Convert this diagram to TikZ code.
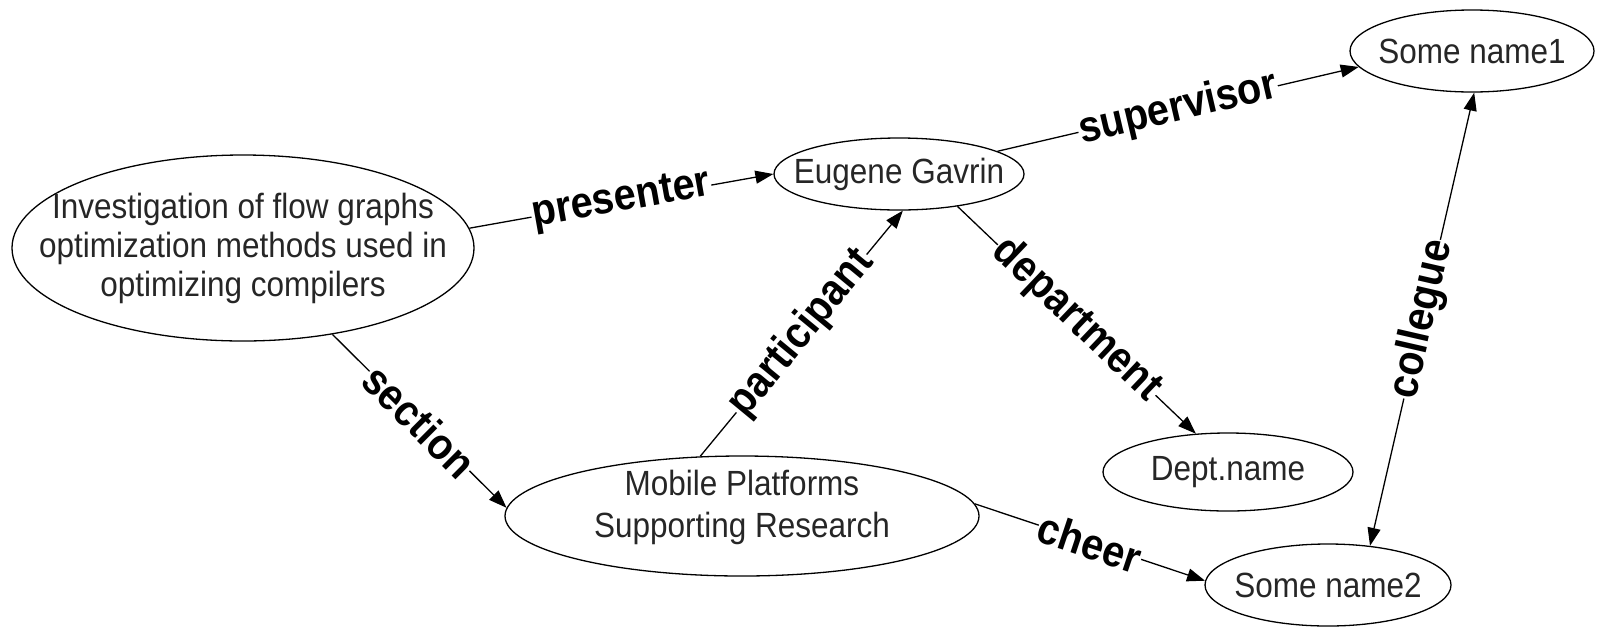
\documentclass[tikz,border=0pt]{standalone}
\usepackage{fontspec}
\setmainfont{Liberation Sans}
\newfontfamily\nodefont{Liberation Sans}[FakeStretch=0.9]
\newfontfamily\labfont{Liberation Sans}[FakeStretch=0.9]
\usetikzlibrary{shapes.geometric,arrows.meta}
\tikzset{
  ent/.style={ellipse, draw, line width=1.3pt, inner sep=0pt},
  enttext/.style={align=center, inner sep=0pt, text=black!85,
    font=\nodefont\fontsize{35}{39}\selectfont},
  rel/.style={draw, line width=1.3pt, -{Triangle[length=18pt,width=13pt]}},
  birel/.style={draw, line width=1.3pt, {Triangle[length=18pt,width=13pt]}-{Triangle[length=18pt,width=13pt]}},
  lab/.style={font=\labfont\bfseries\fontsize{44}{44}\selectfont, fill=white,
    inner sep=1pt, sloped, pos=0.5}
}
\begin{document}
\begin{tikzpicture}[x=1pt,y=-1pt]
\useasboundingbox (0,0) rectangle (1602,630);
\node[ent, minimum width=462, minimum height=186,
  label={[enttext]center:{Investigation of flow graphs\\optimization methods used in\\optimizing compilers}}] (inv) at (243,248) {};
\node[ent, minimum width=250, minimum height=72,
  label={[enttext]center:Eugene Gavrin}] (eug) at (899,174) {};
\node[ent, minimum width=244, minimum height=82,
  label={[enttext]center:Some name1}] (sn1) at (1472,51) {};
\node[ent, minimum width=250, minimum height=78,
  label={[enttext]center:Dept.name}] (dept) at (1228,472) {};
\node[ent, minimum width=474, minimum height=120,
  label={[enttext, font=\nodefont\fontsize{35}{42}\selectfont, yshift=9pt]center:{Mobile Platforms\\Supporting Research}}] (mob) at (742,516) {};
\node[ent, minimum width=246, minimum height=82,
  label={[enttext]center:Some name2}] (sn2) at (1328,585) {};

\draw[rel] (inv.5) -- node[lab] {presenter} (eug.180);
\draw[rel] (eug.13) -- node[lab] {supervisor} (sn1.188);
\draw[rel] (eug.-29) -- node[lab] {department} (dept.130);
\draw[rel] (mob.125) -- node[lab] {participant} (eug.-84);
\draw[rel] (inv.-44) -- node[lab] {section} (mob.178);
\draw[rel] (mob.3) -- node[lab] {cheer} (sn2.178);
\draw[birel] (sn2.43) -- node[lab] {collegue} (sn1.-87);
\end{tikzpicture}
\end{document}
